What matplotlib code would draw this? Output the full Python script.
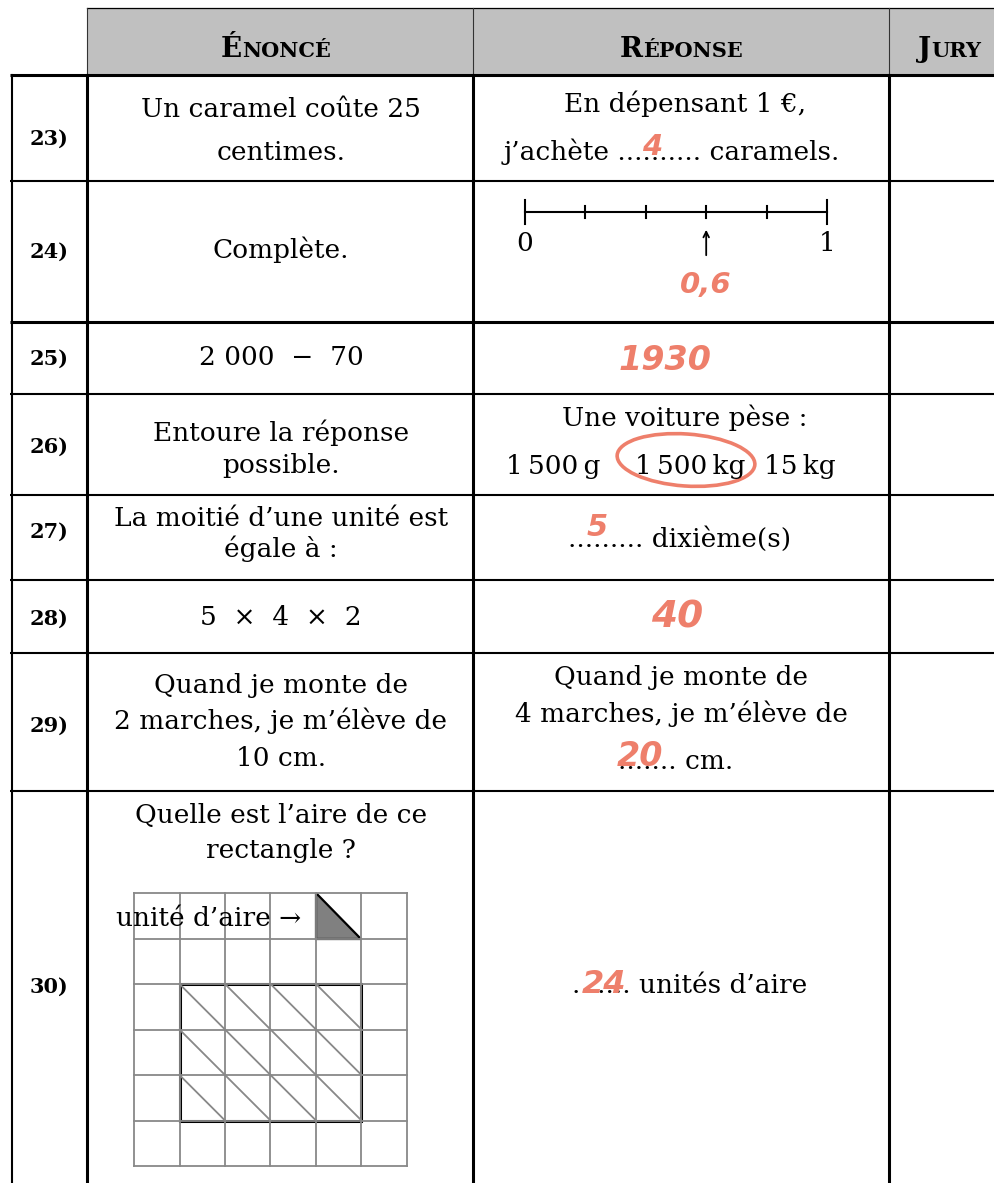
import matplotlib.pyplot as plt
from matplotlib.patches import Rectangle, Ellipse, Polygon

plt.rcParams['font.family'] = ['DejaVu Serif']

W, H = 995, 1183

# table content
row_labels = ['23)', '24)', '25)', '26)', '27)', '28)', '29)', '30)']
row_edges = [75, 181, 322, 394, 495, 580, 653, 791]
row_edge_width = [2.2, 1.5, 2.2, 1.5, 1.5, 1.5, 1.5, 1.5]
label_y = [145, 258, 365, 453, 538, 625, 732, 993]

questions = [
    ['Un caramel coûte 25', 'centimes.'],
    ['Complète.'],
    ['2 000  −  70'],
    ['Entoure la réponse', 'possible.'],
    ['La moitié d’une unité est', 'égale à :'],
    ['5  ×  4  ×  2'],
    ['Quand je monte de', '2 marches, je m’élève de', '10 cm.'],
    ['Quelle est l’aire de ce', 'rectangle ?'],
]
question_y = [[117, 160], [258], [365], [441, 473], [526, 557], [625],
              [693, 729, 766], [823, 858]]

answers = [
    ['En dépensant 1 €,', 'j’achète .......... caramels.'],
    [],
    [],
    ['Une voiture pèse :'],
    ['......... dixième(s)'],
    [],
    ['Quand je monte de', '4 marches, je m’élève de', '....... cm.'],
    ['....... unités d’aire'],
]
answer_y = [[112, 160], [], [], [426], [547], [], [685, 722, 769], [993]]
answer_x = [[685, 672], [], [], [685], [680], [], [681, 681, 676], [690]]

# row 26 choices
weights = ['1\u2009500\u2009g', '1\u2009500\u2009kg', '15\u2009kg']
weights_x = [553, 690, 800]
weights_y = 474
chosen = 1

# handwritten answers (text, x, y)
hand_text = ['4', '0,6', '1930', '5', '40', '20', '24']
hand_x = [652, 706, 665, 597, 677, 640, 604]
hand_y = [147, 285, 360, 527, 617, 756, 984]
hand_size = [21, 21, 24, 22, 27, 24, 23]

# number line of row 24
line_ticks = [0, 0.2, 0.4, 0.6, 0.8, 1]
line_labels = {0: '0', 1: '1'}
line_arrow_at = 0.6

# area grid of row 30
grid_n = 6
rect_cells = (1, 2, 4, 3)  # col, row, width, height
unit_cell = (4, 0)

hand_color = '#ee7f6b'
body_size = 19

fig = plt.figure(figsize=(W / 100, H / 100), dpi=100)
ax = fig.add_axes([0, 0, 1, 1])
ax.set_xlim(0, W)
ax.set_ylim(H, 0)
ax.axis('off')
renderer = fig.canvas.get_renderer()

col_q, col_a, col_j = 87, 473, 889

# header
ax.add_patch(Rectangle((col_q, 8), W - col_q, 75 - 8, facecolor='#c0c0c0',
                       edgecolor='none'))
ax.plot([col_q, W], [8, 8], color='black', lw=0.9)
for x in [col_q, col_a, col_j]:
    ax.plot([x, x], [8, 75], color='#333333', lw=0.8)


def small_caps(xc, word, y):
    t1 = ax.text(0, y, word[0], fontsize=20, fontweight='bold',
                 ha='left', va='baseline')
    t2 = ax.text(0, y, word[1:], fontsize=15, fontweight='bold',
                 ha='left', va='baseline')
    w1 = t1.get_window_extent(renderer).width
    w2 = t2.get_window_extent(renderer).width
    x0 = xc - (w1 + w2) / 2
    t1.set_x(x0)
    t2.set_x(x0 + w1)


small_caps(276, 'ÉNONCÉ', 57)
small_caps(681, 'RÉPONSE', 57)
small_caps(950, 'JURY', 57)

# table rules
for y, lw in zip(row_edges, row_edge_width):
    ax.plot([10, W], [y, y], color='black', lw=lw, solid_capstyle='butt')
ax.plot([12, 12], [75, H], color='black', lw=1.5)
for x in [col_q, col_a, col_j]:
    ax.plot([x, x], [75, H], color='black', lw=2.2)

for i, lab in enumerate(row_labels):
    ax.text(49, label_y[i], lab, fontsize=15, fontweight='bold',
            ha='center', va='baseline')
    for line, y in zip(questions[i], question_y[i]):
        ax.text(281, y, line, fontsize=body_size, ha='center', va='baseline')
    for line, x, y in zip(answers[i], answer_x[i], answer_y[i]):
        ax.text(x, y, line, fontsize=body_size, ha='center', va='baseline')

for k, (w, x) in enumerate(zip(weights, weights_x)):
    ax.text(x, weights_y, w, fontsize=body_size, ha='center', va='baseline')
    if k == chosen:
        ax.add_patch(Ellipse((x - 4, weights_y - 14), 138, 52, angle=4,
                             fill=False, edgecolor=hand_color, lw=2.6))

for t, x, y, s in zip(hand_text, hand_x, hand_y, hand_size):
    ax.text(x, y, t, fontsize=s, color=hand_color, fontweight='bold',
            style='italic', family='DejaVu Sans', ha='center', va='center')

# number line
nl = fig.add_axes([525 / W, 1 - 300 / H, (827 - 525) / W, (300 - 190) / H])
nl.set_xlim(0, 1)
nl.set_ylim(110, 0)
nl.axis('off')
nl.plot([0, 1], [22, 22], color='black', lw=1.5, clip_on=False)
for t in line_ticks:
    half = 12 if t in line_labels else 6
    nl.plot([t, t], [22 - half, 22 + half], color='black', lw=1.5,
            clip_on=False)
    if t in line_labels:
        nl.text(t, 61, line_labels[t], fontsize=body_size, ha='center',
                va='baseline')
nl.annotate('', xy=(line_arrow_at, 37), xytext=(line_arrow_at, 68),
            arrowprops=dict(arrowstyle='->', color='black', lw=1.3))

# area grid
gx0, gy0, cell = 134, 893, 45.5
ga = fig.add_axes([gx0 / W, 1 - (gy0 + grid_n * cell) / H,
                   grid_n * cell / W, grid_n * cell / H])
ga.set_xlim(0, grid_n)
ga.set_ylim(grid_n, 0)
ga.axis('off')
for k in range(grid_n + 1):
    ga.plot([k, k], [0, grid_n], color='#888888', lw=1.3, clip_on=False)
    ga.plot([0, grid_n], [k, k], color='#888888', lw=1.3, clip_on=False)
c0, r0, cw, rh = rect_cells
for c in range(c0, c0 + cw):
    for r in range(r0, r0 + rh):
        ga.plot([c, c + 1], [r, r + 1], color='#888888', lw=1.3)
ga.add_patch(Rectangle((c0, r0), cw, rh, fill=False, edgecolor='black',
                       lw=2.2, clip_on=False))
uc, ur = unit_cell
ga.add_patch(Polygon([(uc, ur), (uc, ur + 1), (uc + 1, ur + 1)],
                     closed=True, facecolor='#808080', edgecolor='black',
                     lw=1.6, clip_on=False))
ga.text(uc - 0.33, ur + 0.72, 'unité d’aire →', fontsize=body_size,
        ha='right', va='baseline')

fig.savefig('out.png', dpi=100)
